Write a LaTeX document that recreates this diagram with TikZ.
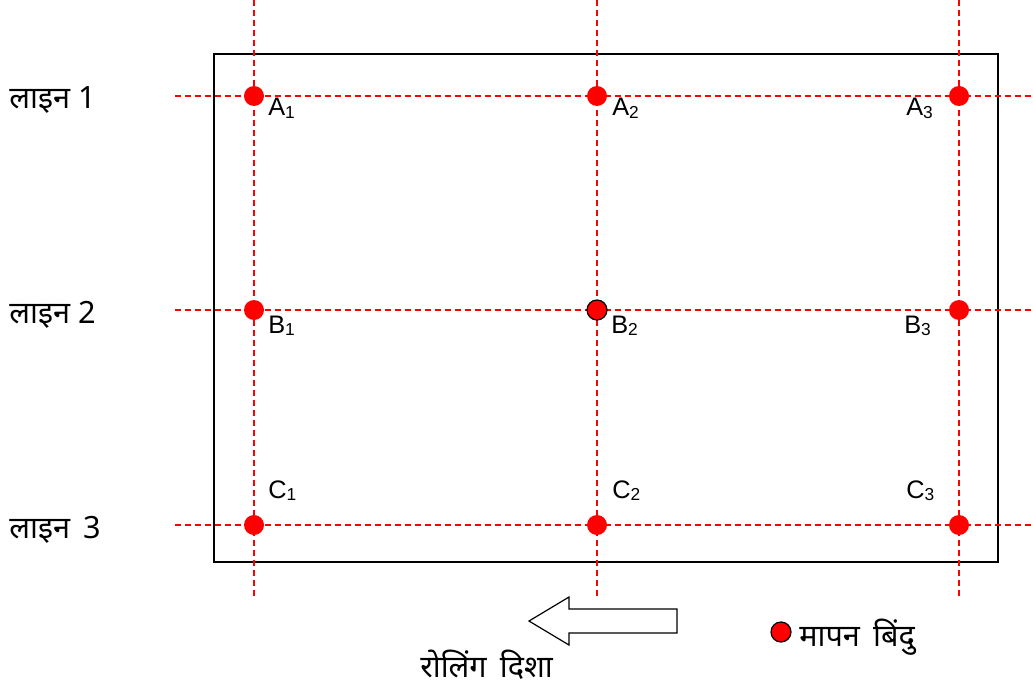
\documentclass[tikz,border=0pt]{standalone}
\usepackage{fontspec}
\setmainfont{Liberation Sans}
\newfontfamily\deva[Script=Devanagari]{Noto Sans}
\newcommand{\sbs}[1]{\raisebox{-0.2ex}{\fontsize{13}{13}\selectfont #1}}
\begin{document}
\begin{tikzpicture}[x=0.75pt,y=-0.75pt,
  grid/.style={red,dashed,dash pattern=on 4.5pt off 3pt,line width=1.1pt},
  pt/.style={circle,fill=red,inner sep=0pt,minimum size=15pt},
  ptb/.style={circle,fill=red,draw=black,line width=0.9pt,inner sep=0pt,minimum size=15pt},
  lbl/.style={font=\fontsize{19}{21}\selectfont,anchor=base west,inner sep=0pt},
  dlbl/.style={font=\deva\fontsize{23}{25}\selectfont,anchor=west,inner sep=0pt}]
\useasboundingbox (0,0) rectangle (1034,688);
\draw[line width=2.2pt] (214,54) rectangle (998,562);
% coordinates
\foreach \n/\x in {1/254,2/597,3/959}{
  \coordinate (vt\n) at (\x,0);
  \coordinate (vb\n) at (\x,600);
}
\foreach \n/\y in {1/96,2/310,3/525}{
  \coordinate (hl\n) at (175,\y);
  \coordinate (hr\n) at (1034,\y);
}
\foreach \n in {1,2,3}{
  \draw[grid] (vt\n) -- (vb\n);
  \draw[grid] (hl\n) -- (hr\n);
}
% points
\node[pt] (A1) at (254,96) {};
\node[pt] (A2) at (597,96) {};
\node[pt] (A3) at (959,96) {};
\node[pt] (B1) at (254,310) {};
\node[ptb] (B2) at (597,310) {};
\node[pt] (B3) at (959,310) {};
\node[pt] (C1) at (254,525) {};
\node[pt] (C2) at (597,525) {};
\node[pt] (C3) at (959,525) {};
% labels
\node[lbl] (lA1) at (268,116) {A\sbs{1}};
\node[lbl] (lA2) at (612,116) {A\sbs{2}};
\node[lbl] (lA3) at (906,116) {A\sbs{3}};
\node[lbl] (lB1) at (268,333) {B\sbs{1}};
\node[lbl] (lB2) at (611,333) {B\sbs{2}};
\node[lbl] (lB3) at (904,333) {B\sbs{3}};
\node[lbl] (lC1) at (268,498) {C\sbs{1}};
\node[lbl] (lC2) at (612,498) {C\sbs{2}};
\node[lbl] (lC3) at (906,498) {C\sbs{3}};
% line labels
\node[dlbl] (L1) at (9,100) {लाइन 1};
\node[dlbl] (L2) at (9,315) {लाइन 2};
\node[dlbl] (L3) at (9,530) {लाइन \,3};
% arrow
\draw[line width=0.9pt,fill=white] (529,621) -- (569,597) -- (569,609) -- (677,609) -- (677,633) -- (569,633) -- (569,645) -- cycle;
\node[dlbl] (roll) at (420,665) {रोलिंग \,दिशा};
% legend
\node[ptb] (leg) at (781,632) {};
\node[dlbl] (legt) at (799,637) {मापन \,बिंदु};
\end{tikzpicture}
\end{document}
